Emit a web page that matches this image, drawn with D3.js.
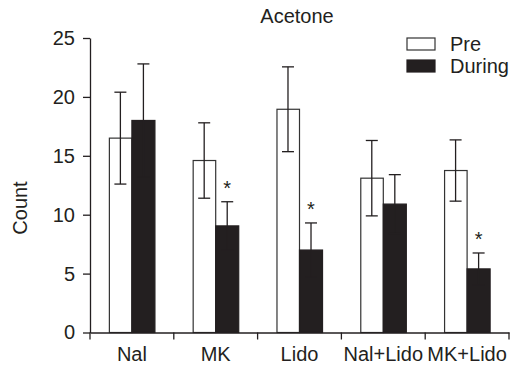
<!DOCTYPE html>
<html>
<head>
<meta charset="utf-8">
<script src="https://cdn.jsdelivr.net/npm/d3@7"></script>
<style>
  html, body { margin: 0; padding: 0; background: #fff; }
  svg text { font-family: "Liberation Sans", Arial, Helvetica, sans-serif; fill: #231f20; }
</style>
</head>
<body>
<svg id="chart" width="518" height="367"></svg>
<script>
const categories = ["Nal", "MK", "Lido", "Nal+Lido", "MK+Lido"];
const seriesNames = ["Pre", "During"];
const preValues = [16.5, 14.6, 18.95, 13.1, 13.75];
const preErrors = [3.9, 3.2, 3.6, 3.2, 2.6];
const duringValues = [18.0, 9.05, 7.0, 10.9, 5.4];
const duringErrors = [4.8, 2.05, 2.3, 2.5, 1.35];
const significant = [false, true, true, false, true];
const yTicks = [0, 5, 10, 15, 20, 25];
const title = "Acetone";
const yLabel = "Count";

const svg = d3.select("#chart");
const dark = "#231f20";
const fontSize = 20;

const x = d3.scaleBand().domain(categories).range([90, 509]).paddingInner(0).paddingOuter(0);
const xSub = d3.scaleBand().domain(seriesNames).range([0, x.bandwidth()]).paddingInner(0).paddingOuter(0.82);
const y = d3.scaleLinear().domain([0, 25]).range([332.5, 38]);

const rows = categories.map((c, i) => ({
  cat: c,
  bars: [
    { s: "Pre", v: preValues[i], e: preErrors[i], sig: false },
    { s: "During", v: duringValues[i], e: duringErrors[i], sig: significant[i] }
  ]
}));

// bars
const g = svg.append("g");
const groups = g.selectAll("g.cat").data(rows).join("g")
  .attr("transform", d => `translate(${x(d.cat)},0)`);

groups.selectAll("rect").data(d => d.bars).join("rect")
  .attr("x", d => xSub(d.s) + (d.s === "Pre" ? 0.5 : 0))
  .attr("width", d => xSub.bandwidth() - (d.s === "Pre" ? 0.5 : 0))
  .attr("y", d => y(d.v))
  .attr("height", d => y(0) - y(d.v))
  .attr("fill", d => d.s === "Pre" ? "#fff" : dark)
  .attr("stroke", d => d.s === "Pre" ? "#333" : dark)
  .attr("stroke-width", 1.2);

// error bars
const capW = 12;
const eb = groups.selectAll("g.eb").data(d => d.bars).join("g").attr("class", "eb");
eb.append("line")
  .attr("x1", d => xSub(d.s) + xSub.bandwidth() / 2)
  .attr("x2", d => xSub(d.s) + xSub.bandwidth() / 2)
  .attr("y1", d => y(d.v - d.e))
  .attr("y2", d => y(d.v + d.e))
  .attr("stroke", dark).attr("stroke-width", 1.3);
eb.append("line")
  .attr("x1", d => xSub(d.s) + xSub.bandwidth() / 2 - capW / 2)
  .attr("x2", d => xSub(d.s) + xSub.bandwidth() / 2 + capW / 2)
  .attr("y1", d => y(d.v + d.e)).attr("y2", d => y(d.v + d.e))
  .attr("stroke", dark).attr("stroke-width", 1.3);
eb.append("line")
  .attr("x1", d => xSub(d.s) + xSub.bandwidth() / 2 - capW / 2)
  .attr("x2", d => xSub(d.s) + xSub.bandwidth() / 2 + capW / 2)
  .attr("y1", d => y(d.v - d.e)).attr("y2", d => y(d.v - d.e))
  .attr("stroke", dark).attr("stroke-width", 1.3);

// significance stars
eb.filter(d => d.sig).append("text")
  .attr("x", d => xSub(d.s) + xSub.bandwidth() / 2)
  .attr("y", d => y(d.v + d.e) - 7)
  .attr("text-anchor", "middle")
  .style("font-size", fontSize + "px")
  .text("*");

// y axis
const yAxis = svg.append("g").attr("transform", "translate(90,0)")
  .call(d3.axisLeft(y).tickValues(yTicks).tickSize(7).tickSizeOuter(0).tickPadding(8));
yAxis.select(".domain").attr("stroke", dark).attr("stroke-width", 1.3);
yAxis.selectAll(".tick line").attr("stroke", dark).attr("stroke-width", 1.3);
yAxis.selectAll(".tick text").style("font-size", fontSize + "px")
  .style("font-family", "'Liberation Sans', Arial, sans-serif").attr("fill", dark);

// x axis
const xAxis = svg.append("g").attr("transform", `translate(0,${y(0)})`)
  .call(d3.axisBottom(x).tickSize(0).tickSizeOuter(0).tickPadding(14));
xAxis.select(".domain").attr("stroke", dark).attr("stroke-width", 1.3);
xAxis.selectAll(".tick text").style("font-size", fontSize + "px")
  .style("font-family", "'Liberation Sans', Arial, sans-serif").attr("fill", dark);
const boundaries = categories.map(c => x(c)).concat([x.range()[1]]);
xAxis.selectAll("line.bound").data(boundaries).join("line").attr("class", "bound")
  .attr("x1", d => d).attr("x2", d => d).attr("y1", 0).attr("y2", 7)
  .attr("stroke", dark).attr("stroke-width", 1.3);

// title
svg.append("text").attr("x", 297).attr("y", 23).attr("text-anchor", "middle")
  .style("font-size", fontSize + "px").text(title);

// y label
svg.append("text").attr("transform", "translate(27,208) rotate(-90)")
  .attr("text-anchor", "middle").style("font-size", fontSize + "px").text(yLabel);

// legend
const legend = svg.append("g");
seriesNames.forEach((s, i) => {
  const ly = 38 + i * 22;
  legend.append("rect").attr("x", 407).attr("y", ly).attr("width", 28).attr("height", 12)
    .attr("fill", s === "Pre" ? "#fff" : dark).attr("stroke", s === "Pre" ? "#333" : dark).attr("stroke-width", 1.2);
  legend.append("text").attr("x", 450).attr("y", ly + 13)
    .style("font-size", fontSize + "px").text(s);
});
</script>
</body>
</html>
